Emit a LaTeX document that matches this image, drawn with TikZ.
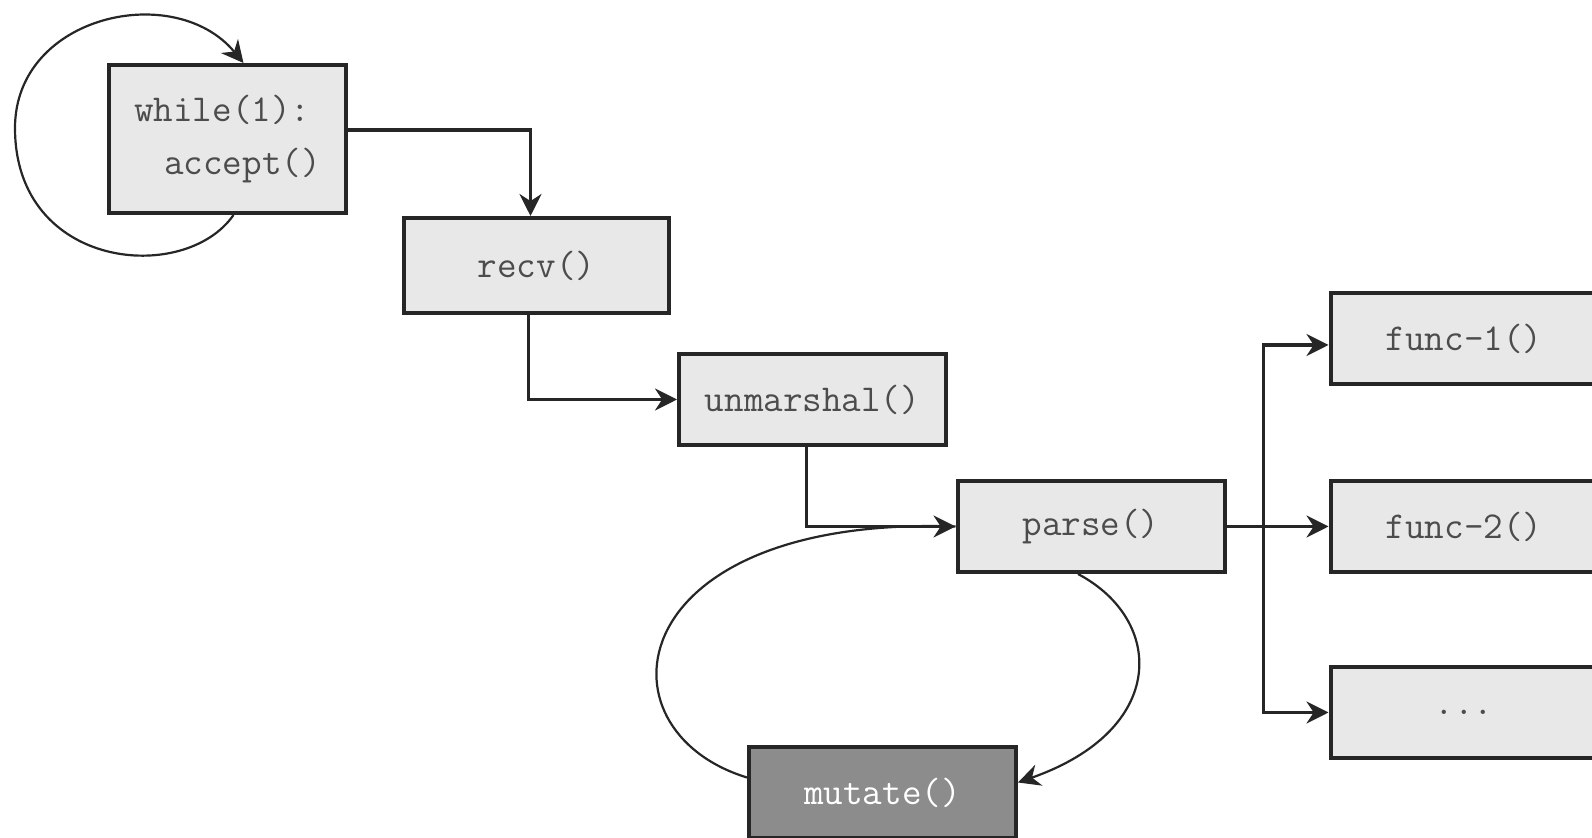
\documentclass[tikz,border=0pt]{standalone}
\usepackage{fontspec}
\usetikzlibrary{arrows.meta}
\usepackage{xcolor}
\definecolor{boxgray}{HTML}{E8E8E8}
\definecolor{fuzzgray}{HTML}{8C8C8C}
\definecolor{inkgray}{HTML}{262626}
\def\boxw{133.5pt}
\def\moredots{...}

\begin{document}
\begin{tikzpicture}[x=0.5pt,y=-0.5pt,>={Stealth[length=11pt,width=11pt]},line width=1.6pt,draw=inkgray]
    \tikzstyle{box}=[rectangle,draw=inkgray,line width=2pt,fill=boxgray,minimum width=\boxw,minimum height=45.5pt,inner sep=0pt,font=\ttfamily\fontsize{19}{26.5}\selectfont,text=black!70]
    \tikzstyle{fuzz box}=[box,fill=fuzzgray,text=white]
    \tikzstyle{flow}=[->]
    \tikzstyle{cycle edge}=[line width=1.1pt]

    \useasboundingbox (0,0) rectangle (1592,838);
    \clip (0,0) rectangle (1592,838);

    % server loop and the request chain
    \node[box,minimum width=118.5pt,minimum height=74pt,align=left] (server) at (227.5,139) {while(1):\\\hspace*{15pt}accept()};
    \node[box,minimum width=132.5pt,minimum height=47.5pt] (recv) at (536.5,265.5) {recv()};
    \node[box] (unmarshal) at (812.5,399.5) {unmarshal()};
    \node[box] (parse) at (1091,526.5) {parse()};
    \node[fuzz box] (mutate) at (882.5,792.5) {mutate()};

    % handlers
    \foreach \i/\y/\t in {1/339/func-1(),2/526.5/func-2(),3/712.5/\moredots}
        \node[box] (F-\i) at (1464,\y) {\t};

    \draw[flow] ([yshift=4.5pt]server.east) -| ([xshift=-3pt]recv.north);
    \draw[flow] ([xshift=-4pt]recv.south) |- (unmarshal.west);
    \draw[flow] ([xshift=-3pt]unmarshal.south) |- (parse.west);

    \coordinate (fork) at ([xshift=18.5pt]parse.east);
    \draw (parse.east) -- (fork);
    \draw[flow] (fork) |- ([yshift=-3pt]F-1.west);
    \foreach \dest in {2,3}
        \draw[flow] (fork) |- (F-\dest.west);

    % loops
    \draw[cycle edge,->] ([xshift=3pt]server.south) .. controls (185,285) and (15,270) .. (15,128)
        .. controls (15,15) and (175,-20) .. ([xshift=8pt]server.north);
    \draw[cycle edge,->] ([xshift=-6.5pt]parse.south) .. controls (1165,620) and (1168,730) .. ([yshift=5pt]mutate.east);
    \draw[cycle edge] ([yshift=7.5pt]mutate.west) .. controls (592,730) and (620,515) .. (parse.west);
\end{tikzpicture}
\end{document}
